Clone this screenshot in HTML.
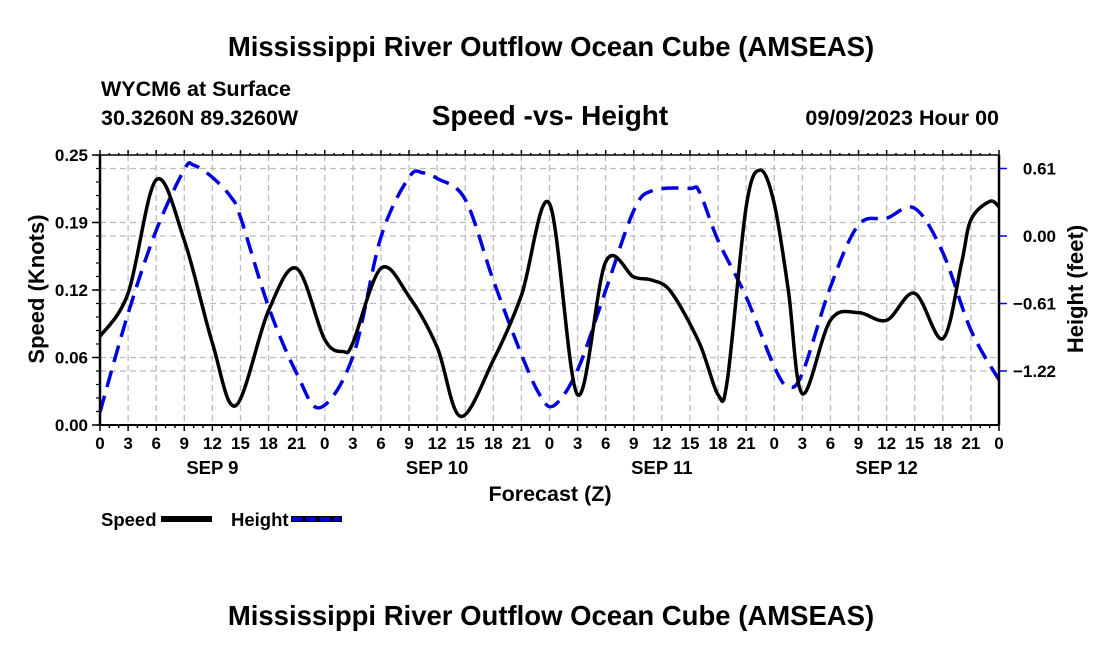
<!DOCTYPE html>
<html><head><meta charset="utf-8"><style>
body{margin:0;background:#fff;}
svg{display:block;font-family:"Liberation Sans",Arial,sans-serif;font-weight:bold;}
</style></head><body>
<svg id="chart" width="1100" height="650" viewBox="0 0 1100 650">
<text x="551" y="56" font-size="27.5" text-anchor="middle">Mississippi River Outflow Ocean Cube (AMSEAS)</text>
<text x="101" y="96" font-size="21.5">WYCM6 at Surface</text>
<text x="101" y="125" font-size="21.5">30.3260N  89.3260W</text>
<text x="550" y="125" font-size="28" text-anchor="middle">Speed -vs- Height</text>
<text x="999" y="125" font-size="21.5" text-anchor="end">09/09/2023 Hour 00</text>
<g id="grid"></g>
<g id="series"></g>
<g id="axes"></g>
<text transform="translate(44,289) rotate(-90)" font-size="22" text-anchor="middle">Speed (Knots)</text>
<text transform="translate(1083,289) rotate(-90)" font-size="22" text-anchor="middle">Height (feet)</text>
<text x="550" y="501" font-size="21.5" text-anchor="middle">Forecast (Z)</text>
<g>
<text x="101" y="526" font-size="18.5">Speed</text>
<rect x="161" y="516" width="51" height="6" fill="#000"/>
<text x="231" y="526" font-size="18.5">Height</text>
<rect x="291" y="516" width="51" height="6" fill="#000"/>
<line x1="292" y1="519" x2="341" y2="519" stroke="#0000dd" stroke-width="4" stroke-dasharray="10,4"/>
</g>
<text x="551" y="625" font-size="27.5" text-anchor="middle">Mississippi River Outflow Ocean Cube (AMSEAS)</text>
</svg>
<script>
const speedHours=[0,3,6,9,12,14.5,18,21,24,26,27,30,33,36,38.5,42,45,48,51,54,57,59,61,64,66,67,69,70.5,72,73.5,75,78,81,84,87,90,92,93,95,96];
const speedValues=[0.082,0.122,0.227,0.171,0.076,0.018,0.106,0.145,0.079,0.068,0.076,0.145,0.119,0.072,0.008,0.06,0.12,0.205,0.028,0.151,0.137,0.134,0.123,0.076,0.028,0.042,0.202,0.236,0.205,0.125,0.029,0.097,0.104,0.097,0.122,0.080,0.150,0.19,0.207,0.202];
const heightHours=[0,3,6,9,10,12,14,15,18,21,23.5,27,30,33,34.5,36,39,42,45,47,48.5,51,54,57,59,63,64,66,69,72,73.5,75,78,81,84,87,90,93,96];
const heightValues=[-1.59,-0.70,0.05,0.60,0.64,0.53,0.35,0.17,-0.64,-1.24,-1.55,-1.09,-0.01,0.53,0.57,0.52,0.33,-0.40,-1.07,-1.44,-1.53,-1.21,-0.49,0.23,0.41,0.43,0.40,-0.04,-0.55,-1.18,-1.36,-1.24,-0.46,0.10,0.16,0.25,-0.15,-0.85,-1.30];
const leftTicks=[0,0.0625,0.125,0.1875,0.25];
const leftTickLabels=["0.00","0.06","0.12","0.19","0.25"];
const rightTicks=[0.6096,0,-0.6096,-1.2192];
const rightTickLabels=["0.61","0.00","\u22120.61","\u22121.22"];
const xTickLabels=["0","3","6","9","12","15","18","21"];
const dayLabels=["SEP 9","SEP 10","SEP 11","SEP 12"];

const L=100,R=999,T=155,B=425;
const x=h=>L+h/96*(R-L);
const yS=v=>B-v/0.25*(B-T);
const yH=f=>236-f/0.6096*67.5;
const NS="http://www.w3.org/2000/svg";
function mk(tag,attrs,parent){const e=document.createElementNS(NS,tag);for(const k in attrs)e.setAttribute(k,attrs[k]);parent.appendChild(e);return e;}
const grid=document.getElementById('grid'),axes=document.getElementById('axes'),series=document.getElementById('series');
for(let h=3;h<96;h+=3){const l=mk('line',{x1:x(h),x2:x(h),y1:T,y2:B,stroke:'#bbb','stroke-width':1.3,'stroke-dasharray':'6,4'},grid);

}
leftTicks.slice(1,4).forEach(v=>{const l=mk('line',{x1:L,x2:R,y1:yS(v),y2:yS(v),stroke:'#bbb','stroke-width':1.3,'stroke-dasharray':'6,4'},grid);

});
rightTicks.forEach(v=>{const l=mk('line',{x1:L,x2:R,y1:yH(v),y2:yH(v),stroke:'#bbb','stroke-width':1.3,'stroke-dasharray':'6,4'},grid);

});
function path(xs,ys){const p=xs.map((h,i)=>[x(h),ys[i]]);let d=`M${p[0][0]},${p[0][1]}`;
for(let i=0;i<p.length-1;i++){const p0=p[Math.max(0,i-1)],p1=p[i],p2=p[i+1],p3=p[Math.min(p.length-1,i+2)];
const c1=[p1[0]+(p2[0]-p0[0])/6,p1[1]+(p2[1]-p0[1])/6],c2=[p2[0]-(p3[0]-p1[0])/6,p2[1]-(p3[1]-p1[1])/6];
d+=`C${c1[0]},${c1[1]} ${c2[0]},${c2[1]} ${p2[0]},${p2[1]}`;}return d;}
const hp=mk('path',{d:path(heightHours,heightValues.map(yH)),fill:'none',stroke:'#0000dd','stroke-width':3.5,'stroke-dasharray':'17,9'},series);


const sp=mk('path',{d:path(speedHours,speedValues.map(yS)),fill:'none',stroke:'#000','stroke-width':3.5},series);


[[L,T,R,T,1.5],[L,B,R,B,2],[L,T,L,B,2.5],[R,T,R,B,2.5]].forEach(a=>{const l=mk('line',{x1:a[0],y1:a[1],x2:a[2],y2:a[3],stroke:'#000','stroke-width':a[4]},axes);

});
for(let h=0;h<=96;h++){const maj=h%3===0;
const t=mk('line',{x1:x(h),x2:x(h),y1:B,y2:B+(maj?6:3),stroke:'#000','stroke-width':1.5},axes);


const t2=mk('line',{x1:x(h),x2:x(h),y1:T,y2:T-(maj?5:2),stroke:'#000','stroke-width':1.5},axes);


if(maj){const lab=h===96?"0":xTickLabels[(h/3)%8];
const tx=mk('text',{x:x(h),y:B+24,'font-size':17,'text-anchor':'middle'},axes);tx.textContent=lab;

}}
dayLabels.forEach((d,i)=>{const tx=mk('text',{x:x(i*24+12),y:B+49,'font-size':18.5,'text-anchor':'middle'},axes);tx.textContent=d;

});
for(let v=0;v<=0.25001;v+=0.0125){const t=mk('line',{x1:L-4,x2:L,y1:yS(v),y2:yS(v),stroke:'#000','stroke-width':1.2},axes);

}
leftTicks.forEach((v,i)=>{const t=mk('line',{x1:L-8,x2:L,y1:yS(v),y2:yS(v),stroke:'#000','stroke-width':1.5},axes);


const tx=mk('text',{x:L-12,y:yS(v)+6,'font-size':17,'text-anchor':'end'},axes);tx.textContent=leftTickLabels[i];

});
rightTicks.forEach((v,i)=>{const t=mk('line',{x1:R,x2:R+8,y1:yH(v),y2:yH(v),stroke:'#0000dd','stroke-width':1.5},axes);


const tx=mk('text',{x:1056,y:yH(v)+6,'font-size':17,'text-anchor':'end'},axes);tx.textContent=rightTickLabels[i];

});
</script>
</body></html>
